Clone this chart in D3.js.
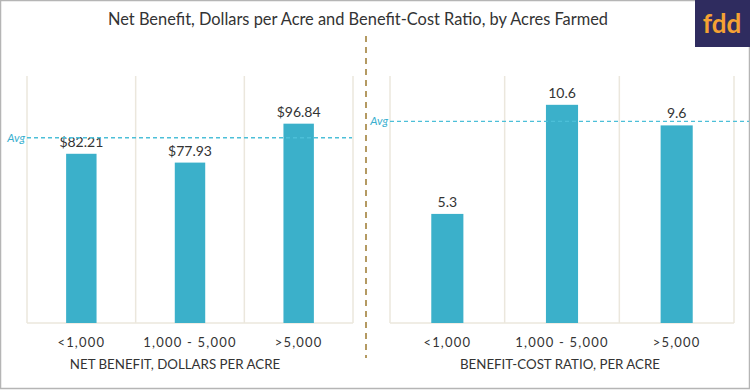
<!DOCTYPE html>
<html lang="en">
<head>
    <meta charset="UTF-8">
    <title>Net Benefit and Benefit-Cost Ratio</title>
    <script src="https://d3js.org/d3.v7.min.js"></script>
    <style>
        body { margin: 0; background: #fff; }
        text { font-family: Lato, "Open Sans", sans-serif; }
    </style>
</head>
<body>
<svg id="chart" width="750" height="390"></svg>

<script>
    const categories = ['<1,000', '1,000 - 5,000', '>5,000'];
    const netBenefit = [82.21, 77.93, 96.84];
    const netBenefitLabels = ['$82.21', '$77.93', '$96.84'];
    const netBenefitAvg = 90;
    const bcRatio = [5.3, 10.6, 9.6];
    const bcRatioLabels = ['5.3', '10.6', '9.6'];
    const bcRatioAvg = 9.8;

    const BAR_COLOR = '#3bb0ca';
    const AVG_COLOR = '#4cbfd8';
    const GRID_COLOR = '#ebe7dd';
    const TEXT_COLOR = '#333';
    const TOP = 76;
    const BASE = 323;

    const svg = d3.select('#chart');

    // frame
    svg.append('rect')
        .attr('x', 0.5).attr('y', 0.5)
        .attr('width', 749).attr('height', 388)
        .attr('fill', 'none').attr('stroke', '#b5b5b5').attr('stroke-width', 1.5);

    svg.append('text')
        .attr('x', 358).attr('y', 25)
        .attr('text-anchor', 'middle')
        .attr('font-size', 16.4)
        .attr('fill', TEXT_COLOR)
        .text('Net Benefit, Dollars per Acre and Benefit-Cost Ratio, by Acres Farmed');

    // logo
    svg.append('rect')
        .attr('x', 695).attr('y', 0).attr('width', 55).attr('height', 47)
        .attr('fill', '#2f2c5f');
    svg.append('text')
        .attr('x', 722).attr('y', 33)
        .attr('text-anchor', 'middle')
        .attr('font-size', 26).attr('font-weight', 'bold')
        .attr('fill', '#f5a233')
        .text('fdd');

    // divider
    svg.append('line')
        .attr('x1', 366).attr('x2', 366).attr('y1', 36).attr('y2', 358)
        .attr('stroke', '#b49a62').attr('stroke-width', 2)
        .attr('stroke-dasharray', '6,5');

    const drawPanel = (opts) => {
        const x = d3.scaleBand()
            .domain(categories)
            .range([opts.left, opts.right])
            .paddingInner(0).paddingOuter(0);
        const y = d3.scaleLinear()
            .domain([0, opts.max])
            .range([BASE, TOP]);

        const g = svg.append('g');

        // gridlines at band edges
        const edges = categories.map(c => x(c)).concat([opts.right]);
        g.selectAll('.grid')
            .data(edges)
            .enter().append('line')
            .attr('x1', d => d).attr('x2', d => d)
            .attr('y1', TOP).attr('y2', BASE)
            .attr('stroke', GRID_COLOR).attr('stroke-width', 1.5);
        g.append('line')
            .attr('x1', opts.left).attr('x2', opts.right)
            .attr('y1', BASE).attr('y2', BASE)
            .attr('stroke', GRID_COLOR).attr('stroke-width', 1.5);

        const bw = x.bandwidth() * 0.28;
        g.selectAll('.bar')
            .data(opts.values)
            .enter().append('rect')
            .attr('x', (d, i) => x(categories[i]) + x.bandwidth() / 2 - bw / 2)
            .attr('y', d => y(d))
            .attr('width', bw)
            .attr('height', d => BASE - y(d))
            .attr('fill', BAR_COLOR);

        g.selectAll('.lbl')
            .data(opts.values)
            .enter().append('text')
            .attr('x', (d, i) => x(categories[i]) + x.bandwidth() / 2)
            .attr('y', d => y(d) - 7)
            .attr('text-anchor', 'middle')
            .attr('font-size', 14)
            .attr('fill', TEXT_COLOR)
            .text((d, i) => opts.labels[i]);

        // average line
        g.append('line')
            .attr('x1', opts.left).attr('x2', opts.avgEnd)
            .attr('y1', y(opts.avg)).attr('y2', y(opts.avg))
            .attr('stroke', AVG_COLOR).attr('stroke-width', 1.3)
            .attr('stroke-dasharray', '4,3');
        g.append('text')
            .attr('x', opts.left - 2).attr('y', y(opts.avg) + 4)
            .attr('text-anchor', 'end')
            .attr('font-size', 11.5).attr('font-style', 'italic')
            .attr('fill', '#3aafcf')
            .text('Avg');

        // category labels
        g.selectAll('.cat')
            .data(categories)
            .enter().append('text')
            .attr('x', d => x(d) + x.bandwidth() / 2)
            .attr('y', 347)
            .attr('text-anchor', 'middle')
            .attr('font-size', 13).attr('letter-spacing', 1.2)
            .attr('fill', TEXT_COLOR)
            .text(d => d);

        g.append('text')
            .attr('x', opts.titleX).attr('y', 369)
            .attr('text-anchor', 'middle')
            .attr('font-size', 13.3)
            .attr('fill', TEXT_COLOR)
            .text(opts.title);
    };

    drawPanel({
        left: 27, right: 353, max: 120, avgEnd: 352,
        values: netBenefit, labels: netBenefitLabels, avg: netBenefitAvg,
        title: 'NET BENEFIT, DOLLARS PER ACRE', titleX: 175
    });
    drawPanel({
        left: 390, right: 734, max: 12, avgEnd: 749,
        values: bcRatio, labels: bcRatioLabels, avg: bcRatioAvg,
        title: 'BENEFIT-COST RATIO, PER ACRE', titleX: 560
    });
</script>
</body>
</html>
